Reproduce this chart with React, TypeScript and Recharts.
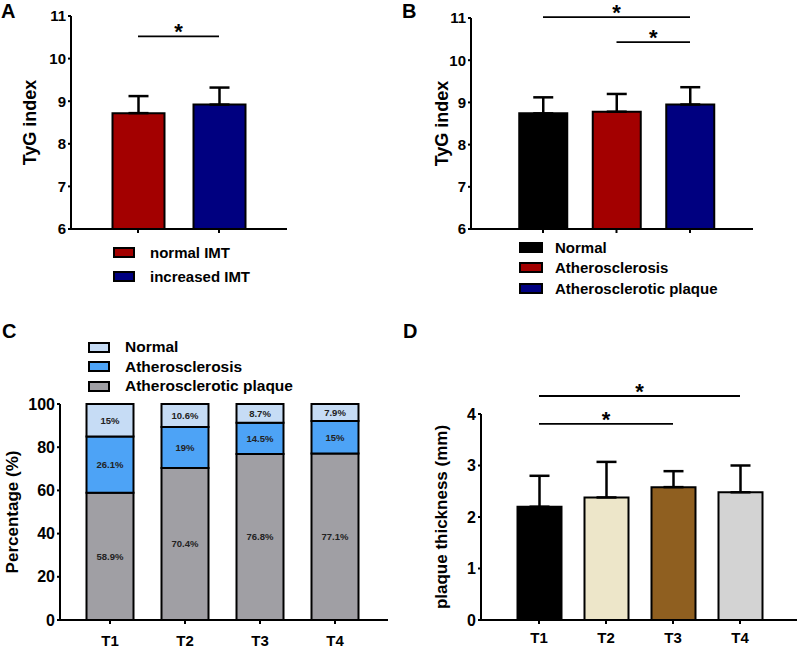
import React from 'react'
import { BarChart, Bar, XAxis, YAxis, ErrorBar, Cell, ReferenceLine, Legend, LabelList } from 'recharts'

const FONT = "'Liberation Sans', Arial, Helvetica, sans-serif"

// A: TyG index by carotid IMT
const imtGroups = ['normal IMT', 'increased IMT']
const imtTyg = [8.72, 8.92]
const imtSd = [0.4, 0.4]
const imtColors = ['#a30000', '#000080']

// B: TyG index by atherosclerosis status
const athGroups = ['Normal', 'Atherosclerosis', 'Atherosclerotic plaque']
const athTyg = [8.74, 8.78, 8.95]
const athSd = [0.38, 0.42, 0.41]
const athColors = ['#000000', '#a30000', '#000080']
const tygTicks = [6, 7, 8, 9, 10, 11]

// C: share of each status per TyG quartile
const quartiles = ['T1', 'T2', 'T3', 'T4']
const normalPct = [15, 10.6, 8.7, 7.9]
const atheroPct = [26.1, 19, 14.5, 15]
const plaquePct = [58.9, 70.4, 76.8, 77.1]
const pctTicks = [0, 20, 40, 60, 80, 100]
const stackNames = ['Normal', 'Atherosclerosis', 'Atherosclerotic plaque']
const stackColors = ['#c6dcf5', '#4da3f6', '#a09fa4']

// D: plaque thickness per quartile
const thickness = [2.2, 2.38, 2.58, 2.48]
const thicknessSd = [0.6, 0.69, 0.31, 0.52]
const thickColors = ['#000000', '#ede6c9', '#8f5f20', '#d3d3d3']
const thickTicks = [0, 1, 2, 3, 4]

const imtData = imtGroups.map((name, i) => ({ name, value: imtTyg[i], err: [0, imtSd[i]] }))
const athData = athGroups.map((name, i) => ({ name, value: athTyg[i], err: [0, athSd[i]] }))
const pctData = quartiles.map((name, i) => ({
  name,
  plaque: plaquePct[i],
  athero: atheroPct[i],
  normal: normalPct[i],
}))
const thickData = quartiles.map((name, i) => ({ name, value: thickness[i], err: [0, thicknessSd[i]] }))

const line = { stroke: '#000', strokeWidth: 2 }
const tickStyle = (size: number) => ({ fill: '#000', fontSize: size, fontWeight: 'bold', fontFamily: FONT })
const starLabel = { value: '*', position: 'top', offset: -3, fill: '#000', fontSize: 22, fontWeight: 'bold' } as any

const yLabel = (text: string, x: number, size: number) => (props: any) => {
  const vb = props.viewBox
  const cy = vb.y + vb.height / 2
  return (
    <text
      x={x}
      y={cy}
      transform={`rotate(-90, ${x}, ${cy})`}
      textAnchor="middle"
      dominantBaseline="central"
      fontSize={size}
      fontWeight="bold"
      fill="#000"
      fontFamily={FONT}
    >
      {text}
    </text>
  )
}

function BoxLegend({ names, colors, rowHeight, boxWidth, gap, fontSize }: any) {
  return (
    <div style={{ fontFamily: FONT }}>
      {names.map((n: string, i: number) => (
        <div key={n} style={{ display: 'flex', alignItems: 'center', height: rowHeight }}>
          <span
            style={{
              display: 'inline-block',
              width: boxWidth,
              height: 11,
              background: colors[i],
              border: '2px solid #000',
              boxSizing: 'border-box',
            }}
          />
          <span style={{ marginLeft: gap, fontSize, fontWeight: 'bold', color: '#000', lineHeight: 1, whiteSpace: 'nowrap' }}>
            {n}
          </span>
        </div>
      ))}
    </div>
  )
}

const pctFmt = (v: any) => `${v}%`

export default function App() {
  return (
    <div style={{ position: 'absolute', left: 0, top: 0, width: 797, height: 648, background: '#fff', fontFamily: FONT, overflow: 'hidden' }}>
      {/* A */}
      <div style={{ position: 'absolute', left: 0, top: 0 }}>
        <BarChart width={400} height={320} data={imtData} margin={{ top: 16, right: 113, left: 0, bottom: 71 }}>
          <XAxis dataKey="name" height={20} axisLine={line} tickLine={line} tickSize={4} tickFormatter={() => ''} padding={{ left: 26.5, right: 27.5 }} />
          <YAxis width={71} domain={[6, 11]} ticks={tygTicks} axisLine={line} tickLine={line} tickSize={3} tickMargin={2} tick={tickStyle(15)} label={yLabel('TyG index', 30, 18)} />
          <Bar dataKey="value" barSize={52} stroke="#000" strokeWidth={2} isAnimationActive={false}>
            {imtData.map((d, i) => (
              <Cell key={d.name} fill={imtColors[i]} />
            ))}
            <ErrorBar dataKey="err" direction="y" width={10} strokeWidth={2.5} stroke="#000" />
          </Bar>
          <ReferenceLine
            segment={[{ x: imtGroups[0], y: 10.52 }, { x: imtGroups[1], y: 10.52 }]}
            stroke="#000"
            strokeWidth={1.8}
            ifOverflow="visible"
            label={starLabel}
          />
          <Legend
            layout="vertical"
            align="center"
            verticalAlign="middle"
            wrapperStyle={{ left: 113, top: 240, width: 'auto' }}
            content={() => <BoxLegend names={imtGroups} colors={imtColors} rowHeight={24} boxWidth={22} gap={15} fontSize={15} />}
          />
        </BarChart>
      </div>

      {/* B */}
      <div style={{ position: 'absolute', left: 400, top: 0 }}>
        <BarChart width={397} height={320} data={athData} margin={{ top: 18, right: 44, left: 0, bottom: 71 }}>
          <XAxis dataKey="name" height={20} axisLine={line} tickLine={line} tickSize={4} tickFormatter={() => ''} padding={{ left: 35.25, right: 26.25 }} />
          <YAxis width={71} domain={[6, 11]} ticks={tygTicks} axisLine={line} tickLine={line} tickSize={3} tickMargin={2} tick={tickStyle(15)} label={yLabel('TyG index', 41.5, 18)} />
          <Bar dataKey="value" barSize={48} stroke="#000" strokeWidth={2} isAnimationActive={false}>
            {athData.map((d, i) => (
              <Cell key={d.name} fill={athColors[i]} />
            ))}
            <ErrorBar dataKey="err" direction="y" width={10} strokeWidth={2.5} stroke="#000" />
          </Bar>
          <ReferenceLine
            segment={[{ x: athGroups[0], y: 11.02 }, { x: athGroups[2], y: 11.02 }]}
            stroke="#000"
            strokeWidth={1.8}
            ifOverflow="visible"
            label={starLabel}
          />
          <ReferenceLine
            segment={[{ x: athGroups[1], y: 10.43 }, { x: athGroups[2], y: 10.43 }]}
            stroke="#000"
            strokeWidth={1.8}
            ifOverflow="visible"
            label={starLabel}
          />
          <Legend
            layout="vertical"
            align="center"
            verticalAlign="middle"
            wrapperStyle={{ left: 119, top: 236.75, width: 'auto' }}
            content={() => <BoxLegend names={athGroups} colors={athColors} rowHeight={20.5} boxWidth={24} gap={12} fontSize={15} />}
          />
        </BarChart>
      </div>

      {/* C */}
      <div style={{ position: 'absolute', left: 0, top: 320 }}>
        <BarChart width={400} height={328} data={pctData} margin={{ top: 84, right: 12, left: 0, bottom: 0 }}>
          <XAxis dataKey="name" height={28} axisLine={line} tickLine={line} tickSize={4} tickMargin={11} tick={tickStyle(15)} padding={{ left: 12.5, right: 15.5 }} />
          <YAxis width={60} domain={[0, 100]} ticks={pctTicks} axisLine={line} tickLine={line} tickSize={3} tickMargin={2} tick={tickStyle(16)} label={yLabel('Percentage (%)', 12, 17)} />
          <Bar dataKey="plaque" stackId="s" barSize={47} fill={stackColors[2]} stroke="#000" strokeWidth={2} isAnimationActive={false}>
            <LabelList dataKey="plaque" position="center" formatter={pctFmt} fill="#222" fontSize={9.5} fontWeight="bold" />
          </Bar>
          <Bar dataKey="athero" stackId="s" barSize={47} fill={stackColors[1]} stroke="#000" strokeWidth={2} isAnimationActive={false}>
            <LabelList dataKey="athero" position="center" formatter={pctFmt} fill="#222" fontSize={9.5} fontWeight="bold" />
          </Bar>
          <Bar dataKey="normal" stackId="s" barSize={47} fill={stackColors[0]} stroke="#000" strokeWidth={2} isAnimationActive={false}>
            <LabelList dataKey="normal" position="center" formatter={pctFmt} fill="#222" fontSize={9.5} fontWeight="bold" />
          </Bar>
          <Legend
            layout="vertical"
            align="center"
            verticalAlign="middle"
            wrapperStyle={{ left: 88, top: 17.25, width: 'auto' }}
            content={() => <BoxLegend names={stackNames} colors={stackColors} rowHeight={19.5} boxWidth={22} gap={15} fontSize={15.5} />}
          />
        </BarChart>
      </div>

      {/* D */}
      <div style={{ position: 'absolute', left: 400, top: 320 }}>
        <BarChart width={397} height={328} data={thickData} margin={{ top: 94, right: 0, left: 0, bottom: 0 }}>
          <XAxis dataKey="name" height={28} axisLine={line} tickLine={line} tickSize={4} tickMargin={8} tick={tickStyle(15)} padding={{ left: 24.5, right: 23.5 }} />
          <YAxis width={81} domain={[0, 4]} ticks={thickTicks} axisLine={line} tickLine={line} tickSize={3} tickMargin={2} tick={tickStyle(16)} label={yLabel('plaque thickness (mm)', 41, 17)} />
          <Bar dataKey="value" barSize={44} stroke="#000" strokeWidth={2} isAnimationActive={false}>
            {thickData.map((d, i) => (
              <Cell key={d.name} fill={thickColors[i]} />
            ))}
            <ErrorBar dataKey="err" direction="y" width={10} strokeWidth={2.5} stroke="#000" />
          </Bar>
          <ReferenceLine
            segment={[{ x: quartiles[0], y: 4.35 }, { x: quartiles[3], y: 4.35 }]}
            stroke="#000"
            strokeWidth={1.8}
            ifOverflow="visible"
            label={starLabel}
          />
          <ReferenceLine
            segment={[{ x: quartiles[0], y: 3.81 }, { x: quartiles[2], y: 3.81 }]}
            stroke="#000"
            strokeWidth={1.8}
            ifOverflow="visible"
            label={starLabel}
          />
        </BarChart>
      </div>

      <svg width={797} height={648} style={{ position: 'absolute', left: 0, top: 0, pointerEvents: 'none' }}>
        <g fontFamily={FONT} fontWeight="bold" fontSize={20} fill="#000">
          <text x={1} y={18}>A</text>
          <text x={402} y={18}>B</text>
          <text x={2} y={338}>C</text>
          <text x={403} y={338}>D</text>
        </g>
      </svg>
    </div>
  )
}
